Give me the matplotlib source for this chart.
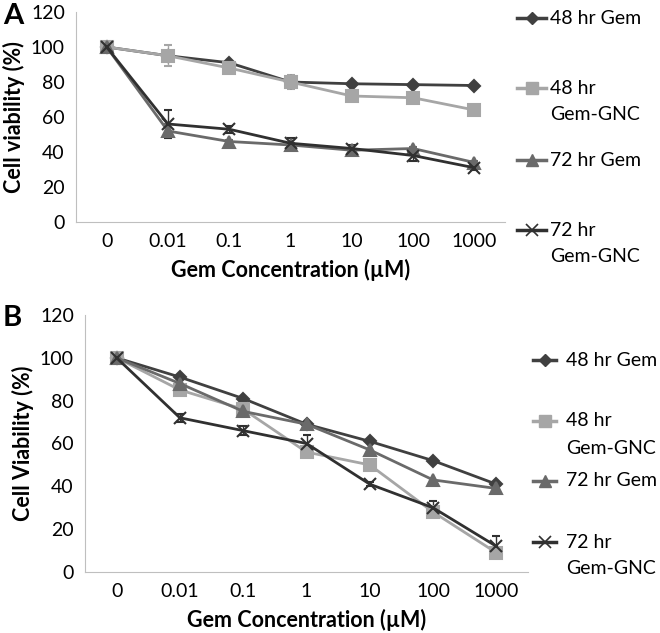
import matplotlib.pyplot as plt
from matplotlib.lines import Line2D

plt.rcParams['font.family'] = ['Lato', 'DejaVu Sans']

conc = ['0', '0.01', '0.1', '1', '10', '100', '1000']
names = ['48 hr Gem', '48 hr\nGem-GNC', '72 hr Gem', '72 hr\nGem-GNC']

# panel A
a_48gem = [100, 95, 91, 80, 79, 78.5, 78]
a_48gnc = [100, 95, 88, 80, 72, 71, 64]
a_72gem = [100, 52, 46, 44, 41, 42, 34]
a_72gnc = [100, 56, 53, 45, 42, 38, 31]
a_err_48gnc = [1, 6, 2, 4, 2, 2, 1]
a_err_72gnc = [1, 8, 2, 3, 2, 3, 1]
a_err_72gem = [1, 4, 1, 1, 1, 1, 1]

# panel B
b_48gem = [100, 91, 81, 69, 61, 52, 41]
b_48gnc = [100, 85, 76, 56, 50, 28, 9]
b_72gem = [100, 88, 75, 69, 57, 43, 39]
b_72gnc = [100, 72, 66, 60, 41, 30, 12]
b_err_72gnc = [1, 2, 2, 4, 1, 3, 5]

styles = [('#404040', 'D', 6), ('#a6a6a6', 's', 8), ('#6a6a6a', '^', 8), ('#303030', 'x', 9)]

fig = plt.figure(figsize=(6.6, 6.33), dpi=100)
W, H = 660.0, 633.0


def draw(ax, series, errs, ylabel):
    x = range(len(conc))
    for i, vals in enumerate(series):
        c, m, ms = styles[i]
        ax.errorbar(x, vals, yerr=errs[i], color=c, marker=m, markersize=ms, lw=2,
                    mew=1.5, capsize=3, elinewidth=1, ecolor=c)
    ax.set_xlim(-0.5, 6.5)
    ax.set_ylim(0, 120)
    ax.set_yticks(range(0, 121, 20))
    ax.set_xticks(list(x))
    ax.set_xticklabels(conc)
    ax.tick_params(length=0, labelsize=14, pad=8)
    for s in ['top', 'right']:
        ax.spines[s].set_visible(False)
    for s in ['left', 'bottom']:
        ax.spines[s].set_color('#bfbfbf')
    ax.set_ylabel(ylabel, fontsize=15.5, fontweight='bold', labelpad=4)
    ax.set_xlabel('Gem Concentration (µM)', fontsize=15.5, fontweight='bold', labelpad=6)


def legend(x0, x1, tx, rows, gap):
    # rows: pixel y of first text line of each entry
    for i, y in enumerate(rows):
        c, m, ms = styles[i]
        fy = 1 - y / H
        fig.add_artist(Line2D([x0 / W, x1 / W], [fy, fy], color=c, lw=2.5))
        fig.add_artist(Line2D([(x0 + x1) / 2 / W], [fy], color=c, marker=m,
                              markersize=ms, mew=1.2 if m == 'x' else 1, lw=0))
        lines = names[i].split('\n')
        for j, t in enumerate(lines):
            fig.text(tx / W, 1 - (y + j * gap) / H, t, fontsize=14, va='center', ha='left')


axA = fig.add_axes([76 / W, 1 - 222 / H, 429 / W, 210 / H])
axB = fig.add_axes([85 / W, 1 - 572 / H, 443 / W, 257 / H])

draw(axA, [a_48gem, a_48gnc, a_72gem, a_72gnc],
     [None, a_err_48gnc, a_err_72gem, a_err_72gnc], 'Cell viability (%)')
draw(axB, [b_48gem, b_48gnc, b_72gem, b_72gnc],
     [None, None, None, b_err_72gnc], 'Cell Viability (%)')

legend(517, 546, 550, [18, 88, 160, 230], 26)
legend(533, 556, 566, [360, 421, 481, 542], 27)

fig.text(3 / W, 1 - 16 / H, 'A', fontsize=21, fontweight='bold', va='center', ha='left')
fig.text(3 / W, 1 - 318 / H, 'B', fontsize=21, fontweight='bold', va='center', ha='left')

fig.savefig('out.png', dpi=100)
